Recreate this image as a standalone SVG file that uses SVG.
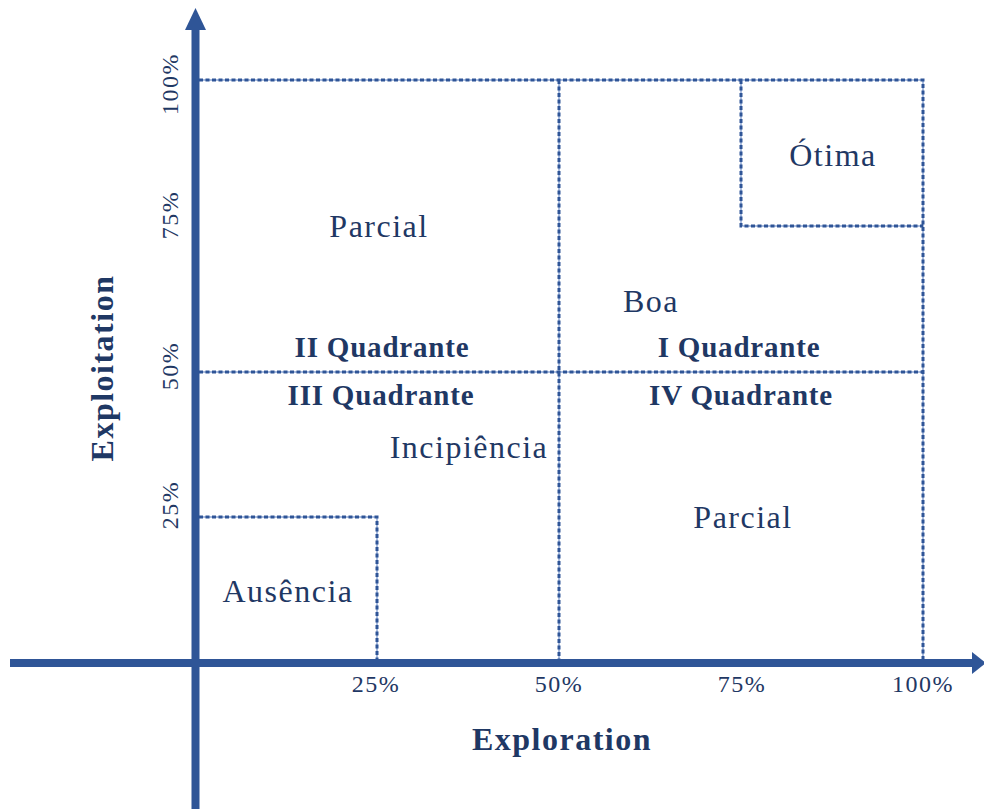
<svg xmlns="http://www.w3.org/2000/svg" width="984" height="809" viewBox="0 0 984 809">
<style>
.axis{stroke:#2F5597;stroke-width:8;fill:none}
.head{fill:#2F5597}
.dl{stroke:#A9BCDF;stroke-width:2;fill:none}
.dd{stroke:#2F5597;stroke-width:3;stroke-dasharray:4 2.5;fill:none}
.t{font-family:"Liberation Serif","Times New Roman",serif;fill:#1F3864}
.big{font-size:32px;letter-spacing:1.5px}
.q{font-size:29px;font-weight:bold;letter-spacing:0.8px}
.tick{font-size:24px;letter-spacing:1.5px}
.ax{font-size:32px;font-weight:bold;letter-spacing:1.5px}
</style>
<rect width="984" height="809" fill="#fff"/>
<g id="grid">
<g class="dl">
<path d="M199 80H923V663M559 80V663M199 372H923M741 80V226H923M199 517H377V663"/>
</g>
<g class="dd">
<path d="M199 80H923V663M559 80V663M199 372H923M741 80V226H923M199 517H377V663"/>
</g>
</g>
<g id="axes">
<line class="axis" x1="195.5" y1="809" x2="195.5" y2="27"/>
<polygon class="head" points="195.5,8 185,30 206,30"/>
<line class="axis" x1="10" y1="663" x2="975" y2="663"/>
<polygon class="head" points="986,663 972,652 972,674"/>
</g>
<g id="ticks" class="t tick" text-anchor="middle">
<text x="376" y="692">25%</text>
<text x="559" y="692">50%</text>
<text x="742" y="692">75%</text>
<text x="923" y="692">100%</text>
<text transform="translate(178,84) rotate(-90)">100%</text>
<text transform="translate(178,215) rotate(-90)">75%</text>
<text transform="translate(178,366) rotate(-90)">50%</text>
<text transform="translate(178,505) rotate(-90)">25%</text>
</g>
<g id="axis-labels" class="t ax" text-anchor="middle">
<text x="562" y="750">Exploration</text>
<text transform="translate(113,368) rotate(-90)">Exploitation</text>
</g>
<g id="region-otima" class="t big" text-anchor="middle"><text x="833" y="166">Ótima</text></g>
<g id="region-parcial-top" class="t big" text-anchor="middle"><text x="379" y="237">Parcial</text></g>
<g id="region-boa" class="t big" text-anchor="middle"><text x="651" y="312">Boa</text></g>
<g id="region-incipiencia" class="t big" text-anchor="middle"><text x="469" y="458">Incipiência</text></g>
<g id="region-parcial-bottom" class="t big" text-anchor="middle"><text x="743" y="528">Parcial</text></g>
<g id="region-ausencia" class="t big" text-anchor="middle"><text x="288" y="602">Ausência</text></g>
<g id="quadrants" class="t q" text-anchor="middle">
<text x="382" y="357">II Quadrante</text>
<text x="739" y="357">I Quadrante</text>
<text x="381" y="405">III Quadrante</text>
<text x="741" y="405">IV Quadrante</text>
</g>
</svg>
